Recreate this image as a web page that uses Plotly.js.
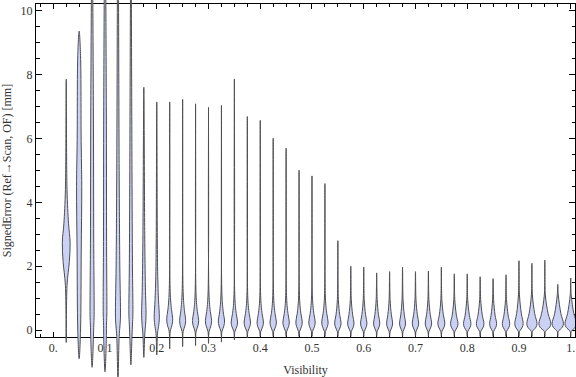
<!DOCTYPE html>
<html>
<head>
<meta charset="utf-8">
<script src="https://cdn.plot.ly/plotly-3.0.1.min.js"></script>
<style>html,body{margin:0;padding:0;background:#fff;}#chart{width:576px;height:377px;}</style>
</head>
<body>
<div id="chart"></div>
<script>
// Bin centres (Visibility)
const visibility = [0.025,0.05,0.075,0.1,0.125,0.15,0.175,0.2,0.225,0.25,
                    0.275,0.3,0.325,0.35,0.375,0.4,0.425,0.45,0.475,0.5,
                    0.525,0.55,0.575,0.6,0.625,0.65,0.675,0.7,0.725,0.75,
                    0.775,0.8,0.825,0.85,0.875,0.9,0.925,0.95,0.975,1.0];
// Largest signed error in each bin [mm]
const errMax = [7.86,9.37,12.5,13.5,14.0,12.5,7.61,7.15,7.15,7.23,
                7.09,6.98,7.04,7.87,6.69,6.57,6.01,5.70,5.01,4.83,
                4.59,2.80,2.00,1.97,1.79,1.83,1.97,1.83,1.85,1.97,
                1.76,1.76,1.67,1.61,1.73,2.17,2.09,2.19,1.43,1.63];
// Smallest signed error in each bin [mm]
const errMin = [-0.39,-0.90,-1.17,-1.31,-1.55,-1.09,-0.86,-0.78,-0.59,-0.52,
                -0.49,-0.42,-0.38,-0.31,-0.25,-0.20,-0.20,-0.20,-0.20,-0.20,
                -0.20,-0.20,-0.20,-0.20,-0.20,-0.20,-0.20,-0.20,-0.20,-0.20,
                -0.20,-0.20,-0.20,-0.20,-0.20,-0.20,-0.20,-0.20,-0.20,-0.20];
// Error at the density peak [mm]
const modeY = [2.75,4.5,0.4,0.5,0.4,0.5,0.45,0.4,0.35,0.3,
               0.3,0.3,0.28,0.25,0.25,0.25,0.25,0.25,0.25,0.25,
               0.25,0.22,0.22,0.22,0.22,0.22,0.22,0.22,0.22,0.22,
               0.2,0.2,0.2,0.2,0.2,0.2,0.2,0.2,0.2,0.2];
// Relative density at the peak
const peakDensity = [3.9,2.6,2.0,1.8,2.5,2.0,2.2,2.6,3.0,3.0,
                     3.1,3.1,3.1,3.2,3.2,3.2,3.2,3.2,3.2,3.2,
                     3.2,3.2,3.2,3.2,3.1,3.0,3.0,3.2,3.2,3.5,
                     3.7,3.7,3.8,3.5,3.7,4.2,5.1,6.0,5.7,5.8];
// Lower / upper end of the dense body [mm]
const bodyLow = [1.4,0.0,-0.3,-0.3,-0.2,-0.2,-0.15,-0.1,-0.05,-0.05,
                 -0.05,-0.05,-0.05,-0.05,-0.05,-0.05,-0.05,-0.05,-0.05,-0.05,
                 -0.05,-0.05,-0.05,-0.05,-0.05,-0.05,-0.05,-0.05,-0.05,-0.05,
                 -0.05,-0.05,-0.05,-0.05,-0.05,-0.05,-0.05,-0.05,-0.05,-0.05];
const bodyHigh = [4.4,8.6,7.0,7.0,5.0,5.0,3.0,2.0,1.2,1.2,
                  1.1,1.1,1.1,1.0,1.0,1.0,1.0,1.0,1.0,1.0,
                  1.0,0.95,0.95,0.95,0.95,0.95,0.95,0.95,0.95,0.95,
                  0.95,0.95,0.95,0.95,0.95,1.1,1.1,1.1,1.1,1.1];
// Relative density of the sparse tails
const tailDensity = [0.8,1.4,1.3,1.3,1.2,1.1,0.9,0.8,0.5,0.5,
                     0.5,0.5,0.5,0.5,0.5,0.5,0.5,0.5,0.5,0.5,
                     0.5,0.5,0.5,0.5,0.5,0.5,0.5,0.5,0.5,0.5,
                     0.5,0.5,0.5,0.5,0.5,0.5,0.5,0.5,0.5,0.5];
// Axis ticks
const xTickVals = [0,0.1,0.2,0.3,0.4,0.5,0.6,0.7,0.8,0.9,1.0];
const xTickText = ['0.','0.1','0.2','0.3','0.4','0.5','0.6','0.7','0.8','0.9','1.'];
const yTickVals = [0,2,4,6,8,10];
const yTickText = ['0','2','4','6','8','10'];

// style constants
const DENS2X = 0.00193;
const FILL = 'rgb(203,209,245)';
const EDGE = 'rgb(78,78,82)';
const FONT = {family:'Liberation Serif, Times New Roman, serif', size:12, color:'#333'};

const traces = visibility.map(function(v, i){
  const lo = bodyLow[i], hi = bodyHigh[i], m = modeY[i], W = peakDensity[i], t = tailDensity[i];
  const prof = [
    [lo, t],
    [lo + 0.55*(m - lo), 0.8*W],
    [m, W],
    [m + 0.35*(hi - m), t + 0.5*(W - t)],
    [hi, t]
  ];
  const xs = [v], ys = [errMin[i]];
  prof.forEach(function(p){ xs.push(v + p[1]*DENS2X); ys.push(p[0]); });
  xs.push(v); ys.push(errMax[i]);
  prof.slice().reverse().forEach(function(p){ xs.push(v - p[1]*DENS2X); ys.push(p[0]); });
  xs.push(v); ys.push(errMin[i]);
  return {
    type:'scatter', mode:'lines', x:xs, y:ys, xaxis:'x', yaxis:'y2',
    fill:'toself', fillcolor:FILL,
    line:{color:EDGE, width:1, shape:'spline', smoothing:1},
    hoverinfo:'skip', showlegend:false
  };
});
// empty trace so that the framed x/y subplot exists
traces.unshift({type:'scatter', mode:'lines', x:[], y:[], xaxis:'x', yaxis:'y', hoverinfo:'skip', showlegend:false});

const layout = {
  width:576, height:377,
  margin:{l:36, r:1, t:0, b:0},
  paper_bgcolor:'#fff', plot_bgcolor:'rgba(0,0,0,0)',
  showlegend:false,
  xaxis:{
    range:[-0.0334, 1.0083], anchor:'y', showgrid:false, zeroline:false,
    showline:true, linecolor:'#000', linewidth:1, mirror:'ticks',
    ticks:'inside', ticklen:5, tickcolor:'#000', tickwidth:1,
    tickmode:'array', tickvals:xTickVals, ticktext:xTickText,
    minor:{dtick:0.025, tick0:0, ticks:'inside', ticklen:3, tickcolor:'#000', showgrid:false},
    tickfont:FONT,
    title:{text:'Visibility', font:FONT}
  },
  yaxis:{
    domain:[0.1061, 0.9894], range:[-0.219, 10.219], anchor:'x',
    showgrid:false, zeroline:false,
    showline:true, linecolor:'#000', linewidth:1, mirror:'ticks',
    ticks:'inside', ticklen:6, tickcolor:'#000', tickwidth:1,
    tickmode:'array', tickvals:yTickVals, ticktext:yTickText,
    minor:{dtick:0.5, tick0:0, ticks:'inside', ticklen:3.5, tickcolor:'#000', showgrid:false},
    tickfont:FONT,
    title:{text:'SignedError (Ref\u2192Scan, OF) [mm]', font:FONT}
  },
  yaxis2:{domain:[0,1], range:[-1.474, 10.345], anchor:'x', visible:false, showgrid:false, zeroline:false}
};

Plotly.newPlot('chart', traces, layout, {staticPlot:true, displayModeBar:false});
</script>
</body>
</html>
